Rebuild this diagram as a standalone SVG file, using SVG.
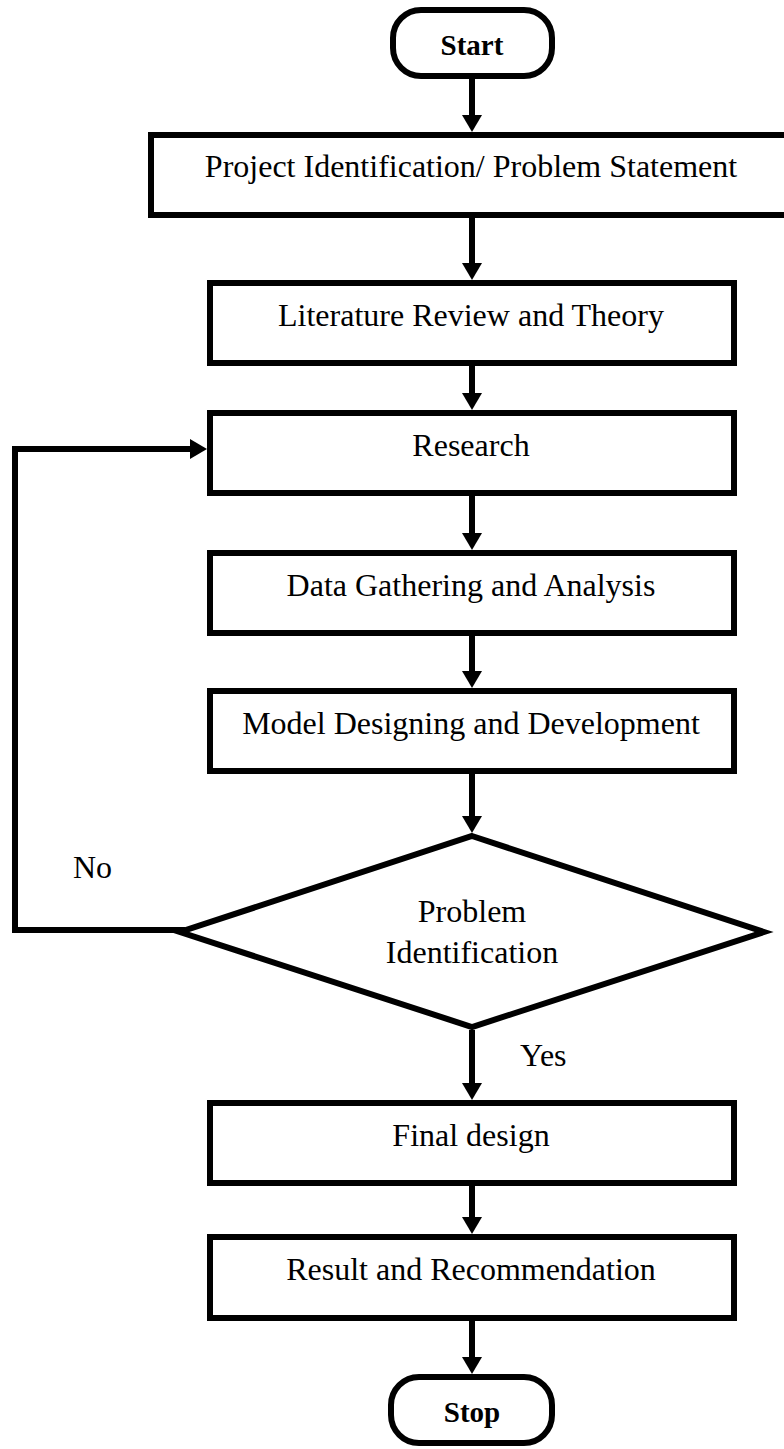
<svg xmlns="http://www.w3.org/2000/svg" width="784" height="1449" viewBox="0 0 784 1449">
<style>
.box{fill:#fff;stroke:#000;stroke-width:6;stroke-linejoin:miter}
.t{font-family:"Liberation Serif","Times New Roman",serif;font-size:32px;fill:#000;text-anchor:middle}
.b{font-weight:bold;font-size:29px}
.c{fill:none;stroke:#000;stroke-width:6;stroke-linejoin:miter}
</style>
<defs>
<marker id="ah" viewBox="0 0 17 20" markerWidth="17" markerHeight="20" refX="0" refY="10" orient="auto" markerUnits="userSpaceOnUse">
<path d="M0,0 L17,10 L0,20 z" fill="#000"/>
</marker>
</defs>
<rect width="784" height="1449" fill="#fff"/>
<g id="connectors">
<line class="c" x1="472" y1="79" x2="472" y2="115" marker-end="url(#ah)"/>
<line class="c" x1="472" y1="218" x2="472" y2="263" marker-end="url(#ah)"/>
<line class="c" x1="472" y1="366" x2="472" y2="393" marker-end="url(#ah)"/>
<line class="c" x1="472" y1="496" x2="472" y2="533" marker-end="url(#ah)"/>
<line class="c" x1="472" y1="636" x2="472" y2="671" marker-end="url(#ah)"/>
<line class="c" x1="472" y1="774" x2="472" y2="816" marker-end="url(#ah)"/>
<line class="c" x1="472" y1="1030" x2="472" y2="1083" marker-end="url(#ah)"/>
<line class="c" x1="472" y1="1186" x2="472" y2="1217" marker-end="url(#ah)"/>
<line class="c" x1="472" y1="1321" x2="472" y2="1357" marker-end="url(#ah)"/>
<path class="c" d="M185,930 H15 V449 H190" marker-end="url(#ah)"/>
<text class="t" x="73" y="878" style="text-anchor:start">No</text>
<text class="t" x="520" y="1066" style="text-anchor:start">Yes</text>
</g>
<g id="start">
<rect class="box" x="393" y="10" width="159" height="66" rx="28"/>
<text class="t b" x="472" y="55">Start</text>
</g>
<g id="project">
<rect class="box" x="151" y="135" width="642" height="80"/>
<text class="t" x="471" y="177">Project Identification/ Problem Statement</text>
</g>
<g id="literature">
<rect class="box" x="210" y="283" width="524" height="80"/>
<text class="t" x="471" y="326">Literature Review and Theory</text>
</g>
<g id="research">
<rect class="box" x="210" y="413" width="524" height="80"/>
<text class="t" x="471" y="456">Research</text>
</g>
<g id="data">
<rect class="box" x="210" y="553" width="524" height="80"/>
<text class="t" x="471" y="596">Data Gathering and Analysis</text>
</g>
<g id="model">
<rect class="box" x="210" y="691" width="524" height="80"/>
<text class="t" x="471" y="734">Model Designing and Development</text>
</g>
<g id="decision">
<polygon class="box" points="472,836 764,932 472,1027 180,932"/>
<text class="t" x="472" y="922">Problem</text>
<text class="t" x="472" y="963">Identification</text>
</g>
<g id="final">
<rect class="box" x="210" y="1103" width="524" height="80"/>
<text class="t" x="471" y="1146">Final design</text>
</g>
<g id="result">
<rect class="box" x="210" y="1237" width="524" height="81"/>
<text class="t" x="471" y="1280">Result and Recommendation</text>
</g>
<g id="stop">
<rect class="box" x="391" y="1377" width="161" height="66" rx="28"/>
<text class="t b" x="472" y="1422">Stop</text>
</g>
</svg>
